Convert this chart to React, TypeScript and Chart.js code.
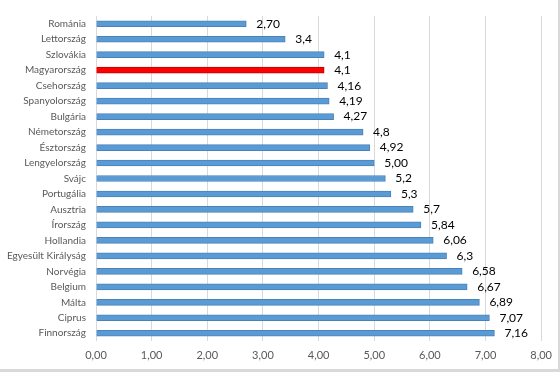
import React, { useEffect, useRef } from "react";
import { Chart, registerables } from "chart.js";

Chart.register(...registerables);

const categories = [
  "Románia", "Lettország", "Szlovákia", "Magyarország", "Csehország",
  "Spanyolország", "Bulgária", "Németország", "Észtország", "Lengyelország",
  "Svájc", "Portugália", "Ausztria", "Írország", "Hollandia",
  "Egyesült Királyság", "Norvégia", "Belgium", "Málta", "Ciprus", "Finnország",
];
const values = [
  2.7, 3.4, 4.1, 4.1, 4.16, 4.19, 4.27, 4.8, 4.92, 5.0,
  5.2, 5.3, 5.7, 5.84, 6.06, 6.3, 6.58, 6.67, 6.89, 7.07, 7.16,
];
const valueLabels = [
  "2,70", "3,4", "4,1", "4,1", "4,16", "4,19", "4,27", "4,8", "4,92", "5,00",
  "5,2", "5,3", "5,7", "5,84", "6,06", "6,3", "6,58", "6,67", "6,89", "7,07", "7,16",
];
const highlight = "Magyarország";
const xMin = 0;
const xMax = 8;
const xStep = 1;

const FONT = "Lato, 'Open Sans', sans-serif";

export default function App() {
  const ref = useRef<HTMLCanvasElement | null>(null);

  useEffect(() => {
    document.body.style.margin = "0";
    const canvas = ref.current;
    if (!canvas) return;

    const labelPlugin = {
      id: "valueLabels",
      afterDatasetsDraw(chart: any) {
        const ctx = chart.ctx;
        const meta = chart.getDatasetMeta(0);
        ctx.save();
        ctx.font = `12px ${FONT}`;
        ctx.fillStyle = "#000000";
        ctx.textAlign = "left";
        ctx.textBaseline = "middle";
        meta.data.forEach((bar: any, i: number) => {
          ctx.fillText(valueLabels[i], bar.x + 10, bar.y);
        });
        ctx.restore();
      },
      afterDraw(chart: any) {
        const ctx = chart.ctx;
        ctx.save();
        ctx.fillStyle = "#D9D9D9";
        ctx.fillRect(0, chart.height - 3, chart.width, 3);
        ctx.fillRect(chart.width - 2, 0, 2, chart.height);
        ctx.restore();
      },
    };

    const chart = new Chart(canvas, {
      type: "bar",
      data: {
        labels: categories,
        datasets: [
          {
            data: values,
            backgroundColor: categories.map((c) => (c === highlight ? "#FF0000" : "#5B9BD5")),
            borderColor: categories.map((c) => (c === highlight ? "#C00000" : "#4A82B8")),
            borderWidth: 1,
            barThickness: 6,
          },
        ],
      },
      options: {
        indexAxis: "y",
        animation: false,
        responsive: false,
        maintainAspectRatio: false,
        layout: { padding: { top: 10, right: 18, bottom: 6, left: 0 } },
        plugins: {
          legend: { display: false },
          tooltip: { enabled: false },
        },
        scales: {
          x: {
            min: xMin,
            max: xMax,
            ticks: {
              stepSize: xStep,
              padding: 8,
              color: "#595959",
              font: { family: FONT, size: 11 },
              callback: (v: any) => Number(v).toFixed(2).replace(".", ","),
            },
            grid: { color: "#D9D9D9", drawTicks: false, lineWidth: 1 },
            border: { display: false },
            afterFit: (s: any) => {
              s.height = 25;
            },
          },
          y: {
            ticks: {
              padding: 10,
              color: "#595959",
              font: { family: FONT, size: 10 },
              autoSkip: false,
            },
            grid: { display: false, drawTicks: false },
            border: { display: false },
            afterFit: (s: any) => {
              s.width = 96;
            },
          },
        },
      },
      plugins: [labelPlugin],
    });

    return () => chart.destroy();
  }, []);

  return (
    <div style={{ width: 560, height: 372, background: "#fff" }}>
      <canvas ref={ref} width={560} height={372} style={{ display: "block" }} />
    </div>
  );
}
